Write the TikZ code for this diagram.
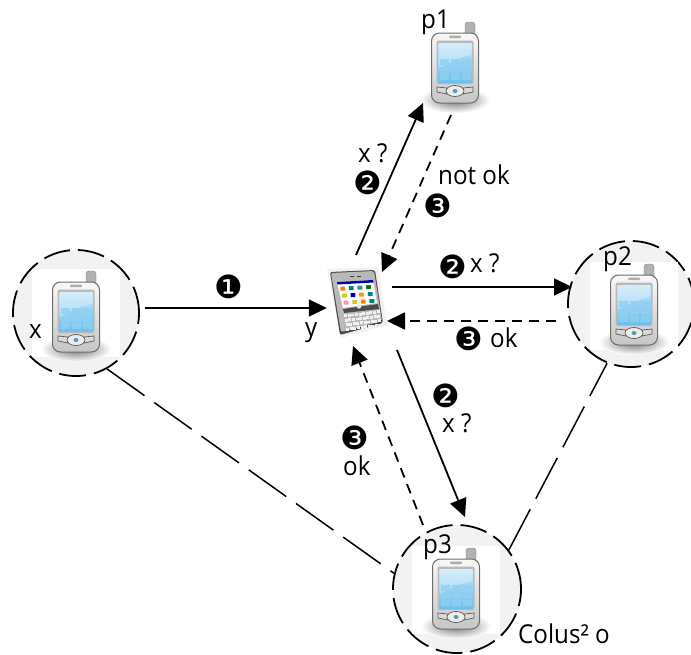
\documentclass[tikz,border=0pt]{standalone}
\usepackage{fontspec}
\setmainfont[FakeStretch=0.93]{Open Sans}
\newfontfamily\dingfont{DejaVu Sans}
\usetikzlibrary{arrows.meta}
\definecolor{ringfill}{HTML}{F2F2F2}
\definecolor{screentop}{HTML}{C4E5F9}
\definecolor{screenlow}{HTML}{6CC0EE}
\tikzset{
  lbl/.style = {anchor = base west, inner sep = 0pt, font = \fontsize{26}{26}\selectfont},
  num/.style = {inner sep = 0pt, font = \fontsize{32}{32}\dingfont},
  ring/.style = {circle, draw, fill = ringfill, line width = 1.8pt, minimum size = 126pt,
    inner sep = 0pt, dash pattern = on 27pt off 8pt},
  holder/.style = {inner sep = 0pt, minimum width = 88pt, minimum height = 88pt},
  ask/.style = {line width = 1.8pt, -{Triangle[length = 18pt, width = 17pt]}},
  reply/.style = {ask, dash pattern = on 10pt off 7pt},
  link/.style = {line width = 1.5pt, dash pattern = on 46pt off 12pt},
  pda/.pic = {
    \fill [white] (-44, -44) rectangle (44, 44);
    \shade [inner color = black!55, outer color = white] (0, 36) ellipse (35 and 13);
    \draw [gray, fill = gray!60, rounded corners = 3pt] (10, -42) rectangle (20, -20);
    \draw [gray!85!black, line width = 1pt, top color = gray!5, bottom color = gray!45,
      rounded corners = 8pt] (-23.5, -31) rectangle (23.5, 39);
    \fill [gray!65, rounded corners = 1pt] (-6, -28.5) rectangle (6, -26);
    \fill [gray!55, rounded corners = 2pt] (-18.5, -23.5) rectangle (18.5, 20);
    \shade [top color = screentop, bottom color = screenlow] (-16.5, -21) rectangle (16.5, 18);
    \fill [white, opacity = 0.3] (-16.5, 4) -- (-16.5, -21) -- (16.5, -21) -- (16.5, -9) .. controls (6, -8) and (-4, -2) .. (-16.5, 4);
    \foreach \col in {-11, 0, 11} \foreach \row in {-2, 5.5, 13}
      \fill [screenlow!75!white, opacity = 0.8] (\col - 4.5, \row - 3) rectangle (\col + 4.5, \row + 3);
    \draw [gray!70!black, fill = gray!30, line width = 0.7pt] (-18, 23) -- (-8, 24) -- (-8, 30) -- (-18, 28) -- cycle;
    \draw [gray!70!black, fill = gray!30, line width = 0.7pt] (18, 23) -- (8, 24) -- (8, 30) -- (18, 28) -- cycle;
    \draw [gray!70!black, fill = gray!15, line width = 0.7pt] (0, 27) ellipse (9 and 5.5);
    \fill [screenlow!80!black] (0, 27) ellipse (2.5 and 2);
  },
  qwerty/.pic = {
    \fill [black!5] (-29, -34) -- (22, -36) -- (31, 22) -- (-15, 35) -- cycle;
    \fill [gray!60!black, rounded corners = 2pt]
      (-26, -31) -- (19, -33) -- (27, 20) -- (-16, 32) -- cycle;
    \fill [gray!55, rounded corners = 2pt]
      (-25, -30) -- (18, -32) -- (26, 18) -- (-15, 29) -- cycle;
    \fill [black!75] (-6, -27.5) rectangle (-2, -26.5);
    \fill [black!75] (1, -27.5) rectangle (5, -26.5);
    \fill [white] (-19, -21) -- (17, -23) -- (21, 0) -- (-13, 5) -- cycle;
    \fill [blue!65!black] (-19, -21) -- (17, -23) -- (17.5, -20.5) -- (-18.6, -18.5) -- cycle;
    \begin{scope} [shift = {(-18.5, -17)}, x = {(8.6pt, 0.5pt)}, y = {(1.7pt, -7pt)}]
      \foreach \col/\row/\tone in {0/0/orange, 1/0/teal, 2/0/cyan!60!black, 3/0/green!50!black,
          0/1/yellow!80!black, 1/1/blue!70!black, 2/1/orange!80!yellow, 3/1/teal,
          0/2/red!40!white, 1/2/yellow!80!black, 2/2/orange, 3/2/teal}
        \fill [\tone, rounded corners = 0.5pt] (\col + 0.3, \row + 0.1) rectangle (\col + 0.75, \row + 0.7);
    \end{scope}
    \fill [gray!60!black] (-13, 6) -- (22, 1) -- (23, 6) -- (-12, 10) -- cycle;
    \fill [gray!20] (3, 3.5) circle (2.2);
    \begin{scope} [shift = {(-12.5, 11)}, x = {(3.6pt, 0.45pt)}, y = {(0.7pt, -4.4pt)}]
      \foreach \col in {0, ..., 9} \foreach \row in {0, ..., 3}
        \fill [gray!12] (\col + 0.15, \row + 0.12) rectangle (\col + 0.85, \row + 0.85);
    \end{scope}
  }
}
\begin{document}
\begin{tikzpicture}[x = 1pt, y = -1pt]
  \useasboundingbox (0, 0) rectangle (691, 654);
  % rings and phones
  \node [ring] (x) at (76, 313) {};
  \node [ring] (p2) at (631, 304) {};
  \node [ring, minimum size = 128pt] (p3) at (457, 589) {};
  \node [holder] (p1) at (455, 64) {};
  \node [inner sep = 0pt, minimum width = 58pt, minimum height = 68pt] (y) at (356, 303) {};
  \pic at (x) {pda};
  \pic at (p1) {pda};
  \pic at (634, 306) {pda};
  \pic at (456, 590) {pda};
  \pic at (y) {qwerty};
  % free ends
  \coordinate (yp1) at (356, 255);
  \coordinate (p1in) at (423, 103);
  \coordinate (p1out) at (451, 115);
  \coordinate (yup) at (382, 272);
  \coordinate (yp2) at (392, 287);
  \coordinate (p2in) at (572, 287);
  \coordinate (p2out) at (556, 321);
  \coordinate (yright) at (387, 321);
  \coordinate (yp3) at (397, 350);
  \coordinate (p3in) at (465, 517);
  \coordinate (p3out) at (423, 525);
  \coordinate (ylow) at (353, 346);
  \coordinate (xout) at (145, 308);
  % connectors
  \draw [ask] (xout) -- (y.west |- xout);
  \draw [ask] (yp1) -- (p1in);
  \draw [reply] (p1out) -- (yup);
  \draw [ask] (yp2) -- (p2in);
  \draw [reply] (p2out) -- (yright);
  \draw [ask] (yp3) -- (p3in);
  \draw [reply] (p3out) -- (ylow);
  \draw [link] (x.299) -- (p3.166);
  \draw [link] (p3.37) -- (p2.248);
  % texts
  \node [lbl] (tx) at (29, 338) {x};
  \node [lbl] (ty) at (305, 336) {y};
  \node [lbl] (tp1) at (421, 28) {p1};
  \node [lbl] (tp2) at (603, 265) {p2};
  \node [lbl] (tp3) at (423, 553) {p3};
  \node [lbl] (tcolus) at (518, 643) {Colus² o};
  \node [num] (n1) at (229, 287) {❶};
  \node [num] (n2a) at (368, 183) {❷};
  \node [lbl] (ta) at (358, 162) {x ?};
  \node [lbl] (tb) at (438, 184) {not ok};
  \node [num] (n3a) at (438, 206) {❸};
  \node [num] (n2b) at (453, 267) {❷};
  \node [lbl] (tc) at (470, 272) {x ?};
  \node [num] (n3b) at (469, 339) {❸};
  \node [lbl] (td) at (490, 347) {ok};
  \node [num] (n2c) at (446, 396) {❷};
  \node [lbl] (te) at (442, 432) {x ?};
  \node [num] (n3c) at (355, 438) {❸};
  \node [lbl] (tf) at (343, 475) {ok};
\end{tikzpicture}
\end{document}
